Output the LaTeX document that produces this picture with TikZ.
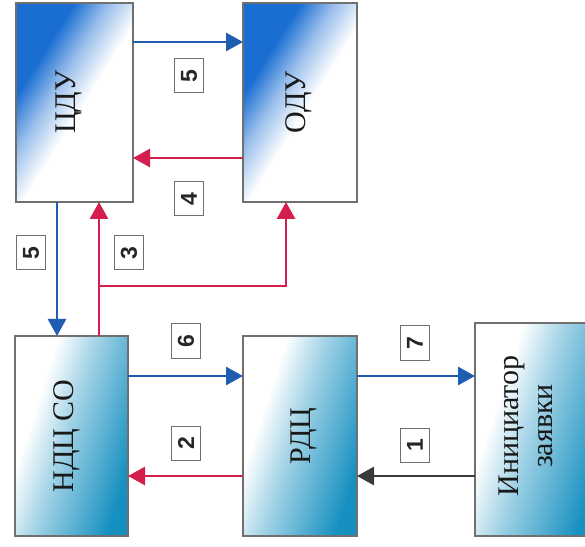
\documentclass[tikz,border=0pt]{standalone}
\usepackage{fontspec}
\setmainfont{Liberation Serif}
\newfontfamily\digitfont{Liberation Sans}
\usetikzlibrary{arrows.meta}
\definecolor{blueA}{HTML}{1A6ED2}
\definecolor{tealA}{HTML}{1690C0}
\definecolor{lineblue}{HTML}{1F5DB0}
\definecolor{linered}{HTML}{D41E4E}
\definecolor{linegray}{HTML}{3A3A3A}
\definecolor{frame}{HTML}{707070}
\pgfdeclareverticalshading{topgrad}{100bp}{color(0bp)=(white); color(47bp)=(white); color(58bp)=(blueA!45!white); color(68bp)=(blueA); color(100bp)=(blueA)}
\pgfdeclareverticalshading{botgrad}{100bp}{color(0bp)=(tealA); color(26bp)=(tealA); color(52bp)=(tealA!40!white); color(66bp)=(white); color(100bp)=(white)}
\tikzset{
  boxbase/.style={draw=frame, line width=1.2pt, anchor=south west, inner sep=0pt, outer sep=0pt},
  topbox/.style={boxbase, shading=topgrad, shading angle=58},
  botbox/.style={boxbase, shading=botgrad, shading angle=72},
  boxtext/.style={rotate=90, inner sep=0pt, font=\fontsize{30}{34}\selectfont, text=black!90},
  num/.style={draw=frame, line width=1pt, fill=white, rotate=90, minimum width=34pt, minimum height=29pt, inner sep=0pt, font=\digitfont\bfseries\fontsize{23}{23}\selectfont, text=black!85},
  conn/.style={line width=2.8pt, -{Triangle[length=17pt,width=18pt]}},
  blueline/.style={conn, draw=lineblue},
  redline/.style={conn, draw=linered},
  grayline/.style={conn, draw=linegray}
}
\begin{document}
\begin{tikzpicture}[x=1pt,y=1pt]
\clip (0,0) rectangle (585,546);
\fill[white] (0,0) rectangle (585,546);
% boxes
\node[topbox, minimum width=117pt, minimum height=199pt] (cdu) at (16,344) {};
\node[topbox, minimum width=114pt, minimum height=199pt] (odu) at (243,344) {};
\node[botbox, minimum width=113pt, minimum height=200pt] (ndc) at (15,10) {};
\node[botbox, minimum width=114pt, minimum height=200pt] (rdc) at (243,10) {};
\node[botbox, minimum width=125pt, minimum height=213pt] (ini) at (475,10) {};
% box texts
\node[boxtext] (tcdu) at (69,444) {ЦДУ};
\node[boxtext] (todu) at (299,444) {ОДУ};
\node[boxtext] (tndc) at (67,110) {НДЦ СО};
\node[boxtext] (trdc) at (304,110) {РДЦ};
\node[boxtext, align=center] (tini) at (526,120) {Инициатор\\заявки};
% connectors
\draw[blueline] (cdu.east |- 0,504) -- (odu.west |- 0,504);
\draw[redline] (odu.west |- 0,388) -- (cdu.east |- 0,388);
\draw[blueline] (cdu.south -| 57,0) -- (ndc.north -| 57,0);
\draw[redline] (ndc.north -| 99,0) -- (cdu.south -| 99,0);
\coordinate (br) at (99,260);
\draw[redline] (br) -| (odu.south -| 286,0);
\draw[blueline] (ndc.east |- 0,170) -- (rdc.west |- 0,170);
\draw[redline] (rdc.west |- 0,70) -- (ndc.east |- 0,70);
\draw[blueline] (rdc.east |- 0,170) -- (ini.west |- 0,170);
\draw[grayline] (ini.west |- 0,70) -- (rdc.east |- 0,70);
% numbers
\node[num] (l5a) at (189,470) {5};
\node[num] (l4) at (189,347) {4};
\node[num] (l5b) at (31,293) {5};
\node[num] (l3) at (129,293) {3};
\node[num] (l6) at (186,205) {6};
\node[num] (l2) at (186,103) {2};
\node[num] (l7) at (415,203) {7};
\node[num] (l1) at (415,101) {1};
\end{tikzpicture}
\end{document}
